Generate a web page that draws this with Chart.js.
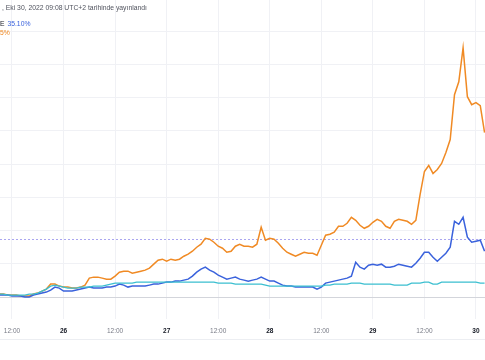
<!DOCTYPE html>
<html>
<head>
<meta charset="utf-8">
<script src="https://cdn.jsdelivr.net/npm/chart.js@4/dist/chart.umd.min.js"></script>
<style>
  body { margin: 0; background: #fff; }
  #wrap { position: relative; width: 485px; height: 340px; border-bottom: 1px solid #eceef2; box-sizing: border-box; }
  .hdr { position: absolute; left: 0; font: 6.8px "Liberation Sans", Arial, sans-serif; white-space: nowrap; }
</style>
</head>
<body>
<div id="wrap">
  <canvas id="chart"></canvas>
  <div class="hdr" style="top:4px;left:2px;color:#50535e">, Eki 30, 2022 09:08 UTC+2 tarihinde yayınlandı</div>
  <div class="hdr" style="top:20px;color:#131722">E <span style="color:#3a62dc;margin-left:1px">35.10%</span></div>
  <div class="hdr" style="top:29px;color:#f08a24">5%</div>
</div>
<script>
// hours since Oct 25 00:00
const hours = [];
for (let h = 9; h <= 122; h++) hours.push(h);

// % change
const orange = [1.8, 1.8, 1.2, 1.2, 1.2, 0.6, 0.6, 0.6, 1.8, 2.4, 3.6, 4.8, 7.8, 7.8, 6.6, 6.0,
  6.0, 5.4, 5.4, 6.0, 7.2, 11.4, 12.0, 12.0, 11.4, 10.8, 10.8, 12.6, 15.0, 15.6, 15.6, 14.4,
  15.0, 15.6, 16.2, 17.4, 19.8, 22.2, 22.8, 21.6, 22.8, 22.2, 22.8, 24.6, 25.8, 27.6, 30.0, 31.8,
  35.4, 34.8, 33.0, 30.6, 29.4, 27.0, 27.6, 30.6, 31.8, 30.6, 30.6, 30.0, 31.8, 42.0, 34.2, 35.4,
  34.8, 32.4, 29.4, 27.0, 25.8, 24.6, 25.8, 27.0, 26.4, 26.4, 25.2, 31.2, 37.2, 37.8, 39.0, 42.6,
  42.6, 44.4, 48.0, 46.2, 43.2, 41.4, 42.6, 45.0, 46.8, 45.6, 42.6, 41.4, 45.6, 46.8, 46.2, 45.6,
  43.8, 46.2, 61.8, 75.6, 79.2, 74.4, 76.8, 80.4, 87.0, 94.8, 121.8, 129.6, 150.0, 120.6, 115.8, 117.0,
  115.2, 99.0];
const blue = [1.2, 1.2, 1.2, 0.6, 0.6, 0.6, 0, 0, 1.2, 1.8, 2.4, 3.0, 4.2, 6.0, 5.4, 3.6,
  3.6, 3.6, 4.2, 4.8, 5.4, 6.0, 5.4, 5.4, 5.4, 6.0, 6.0, 6.6, 7.8, 7.2, 6.0, 6.6,
  6.6, 6.6, 6.6, 7.2, 7.8, 7.8, 8.4, 9.0, 9.0, 9.6, 9.6, 10.2, 10.8, 12.6, 15.0, 16.8,
  18.0, 16.2, 15.0, 13.2, 12.0, 10.8, 11.4, 12.0, 10.8, 10.2, 9.6, 10.2, 10.8, 12.0, 10.8, 9.6,
  9.6, 8.4, 7.2, 6.6, 6.6, 6.0, 6.0, 6.0, 6.0, 6.0, 4.8, 6.0, 8.4, 9.0, 9.6, 10.2,
  10.8, 11.4, 12.6, 21.0, 18.0, 16.8, 19.2, 19.8, 19.2, 19.8, 18.0, 18.0, 18.6, 19.8, 19.2, 18.6,
  18.0, 20.4, 23.4, 27.0, 27.0, 24.0, 21.6, 24.0, 26.4, 30.0, 45.6, 43.8, 48.0, 36.0, 33.0, 33.6,
  34.2, 27.6];
const cyan = [1.8, 1.8, 1.2, 1.2, 1.2, 1.2, 1.2, 1.8, 1.8, 2.4, 3.6, 4.8, 6.6, 7.2, 6.6, 6.0,
  5.4, 5.4, 5.4, 6.0, 6.0, 6.0, 6.6, 6.6, 6.6, 7.2, 7.8, 8.4, 8.4, 8.4, 8.4, 8.4,
  9.0, 9.0, 9.0, 9.0, 9.0, 9.0, 9.0, 9.0, 9.0, 9.0, 9.0, 9.0, 9.0, 9.0, 9.0, 9.0,
  9.0, 9.0, 9.0, 8.4, 8.4, 8.4, 8.4, 7.8, 7.8, 7.8, 7.8, 7.8, 7.8, 7.8, 7.2, 6.6,
  6.6, 6.6, 6.6, 6.6, 6.6, 6.6, 6.6, 6.6, 6.6, 6.6, 6.6, 6.6, 7.2, 7.2, 7.8, 7.8,
  7.8, 7.8, 8.4, 8.4, 8.4, 7.8, 7.8, 7.8, 7.8, 7.8, 7.8, 7.8, 7.2, 7.2, 7.2, 7.2,
  8.4, 8.4, 8.4, 9.0, 9.0, 7.8, 7.8, 9.0, 9.0, 9.0, 9.0, 9.0, 9.0, 9.0, 9.0, 9.0,
  8.4, 8.4];
const blueLast = 35.10;
const yTicks = [0, 20, 40, 60, 80, 100, 120, 140, 160];
const xTicks = [12, 24, 36, 48, 60, 72, 84, 96, 108, 120];

const pts = arr => arr.map((v, i) => ({ x: hours[i], y: v }));

// dotted price line for the blue series
const priceLine = {
  id: 'priceLine',
  beforeDatasetsDraw(chart) {
    const { ctx, chartArea } = chart;
    const y = Math.round(chart.scales.y.getPixelForValue(blueLast)) + 0.5;
    ctx.save();
    ctx.strokeStyle = '#aaa6f0';
    ctx.lineWidth = 1;
    ctx.setLineDash([2, 2]);
    ctx.beginPath();
    ctx.moveTo(chartArea.left, y);
    ctx.lineTo(chartArea.right, y);
    ctx.stroke();
    ctx.restore();
  }
};

new Chart(document.getElementById('chart'), {
  type: 'line',
  data: {
    datasets: [
      { data: pts(cyan), borderColor: '#3bbfd0', borderWidth: 1.3 },
      { data: pts(blue), borderColor: '#3a62dc', borderWidth: 1.5 },
      { data: pts(orange), borderColor: '#f08a24', borderWidth: 1.5 }
    ]
  },
  options: {
    responsive: true,
    maintainAspectRatio: false,
    animation: false,
    layout: { padding: 0 },
    elements: { point: { radius: 0 }, line: { tension: 0 } },
    plugins: { legend: { display: false }, tooltip: { enabled: false } },
    scales: {
      x: {
        type: 'linear',
        min: 9.21,
        max: 122.1,
        afterBuildTicks: s => { s.ticks = xTicks.map(v => ({ value: v })); },
        afterFit: s => { s.height = 20; s.paddingLeft = 0; s.paddingRight = 0; },
        grid: { color: '#f0f1f5', drawTicks: false },
        border: { display: false },
        ticks: {
          padding: 8,
          maxRotation: 0,
          autoSkip: false,
          color: c => c.tick.value % 24 === 0 ? '#131722' : '#787b86',
          font: c => ({ family: '"Liberation Sans", Arial, sans-serif', size: 6.5, weight: c.tick && c.tick.value % 24 === 0 ? 'bold' : 'normal' }),
          callback: v => v % 24 === 0 ? String(25 + v / 24) : '12:00'
        }
      },
      y: {
        min: -13.2,
        max: 178.8,
        afterBuildTicks: s => { s.ticks = yTicks.map(v => ({ value: v })); },
        afterFit: s => { s.width = 0; s.paddingTop = 0; s.paddingBottom = 0; },
        grid: { color: c => c.tick.value === 0 ? '#d3d5db' : '#f0f1f5', drawTicks: false },
        border: { display: false },
        ticks: { display: false }
      }
    }
  },
  plugins: [priceLine]
});
</script>
</body>
</html>
